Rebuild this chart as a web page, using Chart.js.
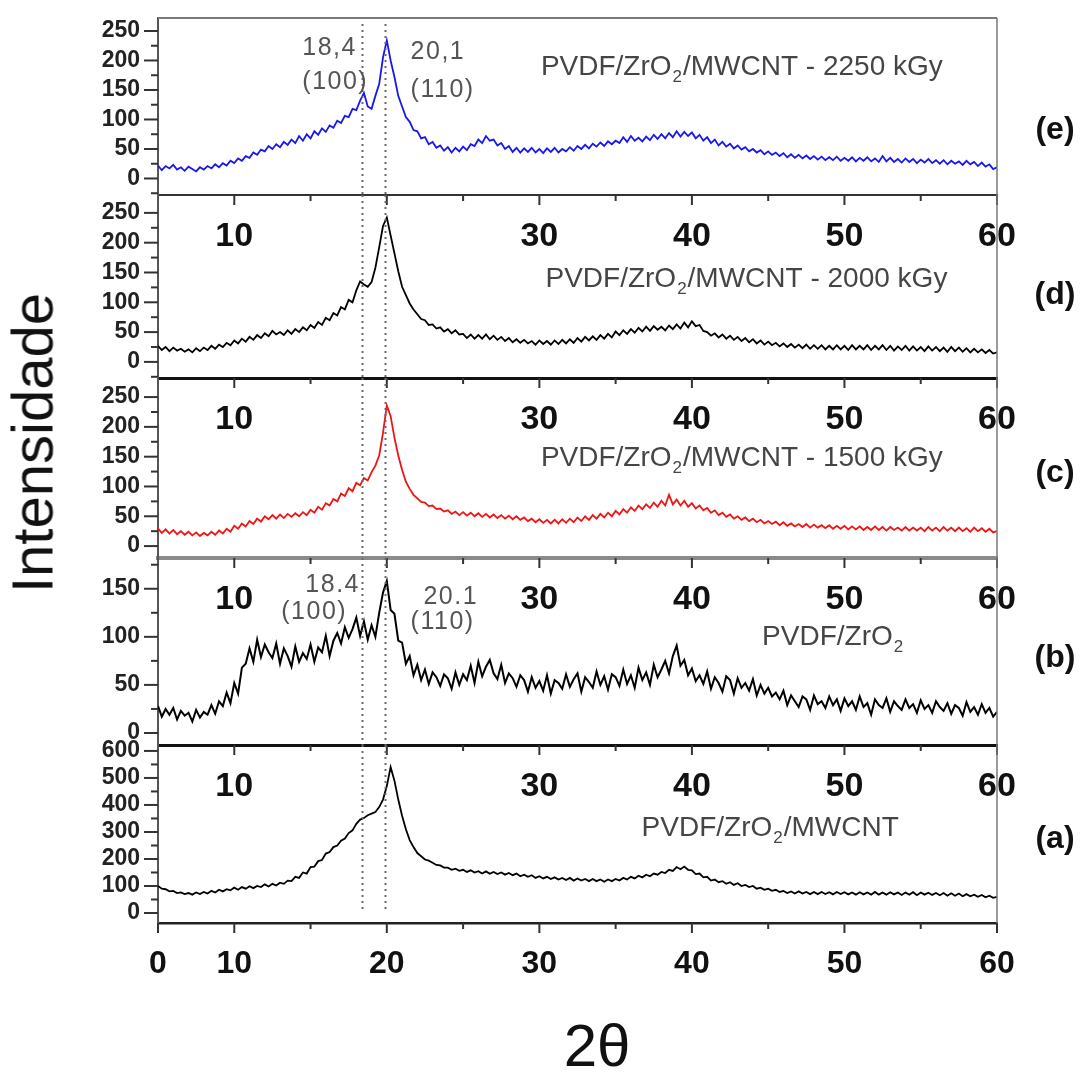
<!DOCTYPE html>
<html>
<head>
<meta charset="utf-8">
<title>DRX PVDF/ZrO2/MWCNT</title>
<script src="https://cdn.jsdelivr.net/npm/chart.js"></script>
<style>
  body { margin: 0; background: #fff; }
  #page { position: relative; width: 1089px; height: 1072px; overflow: hidden; font-family: "Liberation Sans", Arial, sans-serif; }
  .panel { position: absolute; left: 0; width: 1089px; }
  #yTitle { position: absolute; left: 32px; top: 443px; transform: translate(-50%, -50%) rotate(-90deg); font-size: 58px; color: #111; white-space: nowrap; }
  #xTitle { position: absolute; left: 597px; top: 1045px; transform: translate(-50%, -50%); font-size: 60px; color: #111; white-space: nowrap; }
</style>
</head>
<body>
<div id="page">
  <div class="panel" id="boxE"><canvas id="chartE"></canvas></div>
  <div class="panel" id="boxD"><canvas id="chartD"></canvas></div>
  <div class="panel" id="boxC"><canvas id="chartC"></canvas></div>
  <div class="panel" id="boxB"><canvas id="chartB"></canvas></div>
  <div class="panel" id="boxA"><canvas id="chartA"></canvas></div>
  <div id="yTitle">Intensidade</div>
  <div id="xTitle">2θ</div>
</div>

<script>
// diffractograms, 5..60 deg every 0.25 deg
var scanStart = 5, scanStep = 0.25;

// (e) 2250 kGy
var intensE = [
  22,14,21,17,23,15,19,13,20,16,12,19,15,21,17,24,19,26,22,30,
  26,34,30,38,35,44,40,49,46,55,50,58,53,62,57,66,60,72,64,75,
  68,80,74,85,79,90,86,98,94,106,104,118,116,132,145,122,118,140,160,205,
  234,200,172,140,122,104,96,82,80,68,70,58,62,52,56,47,53,44,52,46,
  54,48,58,55,66,60,72,64,66,56,60,50,55,45,52,44,51,45,52,44,
  50,43,51,45,52,44,50,46,53,47,55,50,57,51,59,54,61,55,63,58,
  64,60,70,62,72,64,69,63,71,65,74,67,75,68,77,70,80,71,79,72,
  78,68,74,64,70,60,66,56,62,54,59,51,56,49,53,46,50,44,48,41,
  46,40,44,38,43,36,41,35,40,34,39,33,38,32,37,31,36,31,37,30,
  35,30,36,29,35,30,36,29,34,28,38,29,35,28,33,27,34,28,33,26,
  32,27,33,26,31,25,31,24,30,25,29,23,30,24,28,21,27,20,24,16,
  19
];
// (d) 2000 kGy
var intensD = [
  27,20,25,18,24,19,22,17,21,16,23,18,24,20,27,22,29,25,32,28,
  36,31,39,34,42,37,45,40,48,43,52,46,50,45,53,47,55,50,58,53,
  62,57,67,62,74,70,82,78,92,88,104,100,120,135,130,126,134,158,192,228,
  242,212,182,152,126,112,98,88,80,72,70,62,63,56,58,51,55,48,53,46,
  47,40,46,39,45,39,46,38,44,37,42,35,40,33,38,32,37,31,35,29,
  36,30,35,29,36,30,37,31,38,32,40,34,42,36,43,37,45,39,47,41,
  51,45,53,47,55,49,57,51,59,52,60,54,59,53,61,55,63,56,66,58,
  68,60,62,52,50,44,48,41,46,39,44,37,42,35,40,33,38,31,36,29,
  34,28,32,26,31,25,30,24,29,23,29,22,28,22,28,21,27,21,28,21,
  27,20,28,21,27,21,28,20,27,21,28,20,27,19,26,20,27,19,26,19,
  25,18,26,19,25,18,24,17,25,18,24,17,23,16,22,16,21,15,20,14,
  16
];
// (c) 1500 kGy
var intensC = [
  30,22,28,21,27,20,25,19,24,18,23,17,22,18,24,19,26,21,29,24,
  34,29,38,33,42,37,46,41,50,45,52,46,53,47,54,49,55,50,57,52,
  61,56,66,61,72,68,79,75,88,84,97,92,106,102,114,110,124,135,152,190,
  236,218,182,152,128,108,96,86,80,74,73,67,68,62,63,58,60,54,58,52,
  57,51,56,50,55,49,54,48,53,47,52,46,51,45,50,44,48,42,46,40,
  45,39,44,38,44,38,45,39,46,40,48,42,50,44,52,46,54,48,56,50,
  59,53,62,56,65,59,68,62,70,64,73,66,76,68,86,70,78,68,76,66,
  72,63,68,60,64,56,60,52,56,49,53,46,50,44,48,42,46,40,44,38,
  42,37,41,35,40,34,38,33,37,32,37,31,36,31,35,30,35,29,34,29,
  34,28,33,28,33,27,32,27,33,27,32,26,32,27,31,26,32,26,31,26,
  31,25,32,26,31,25,32,26,31,25,31,25,30,24,31,25,30,24,29,23,
  25
];
// (b) PVDF/ZrO2
var intensB = [
  28,17,25,19,26,14,23,18,21,12,24,16,22,19,29,20,33,28,42,31,
  52,41,68,72,88,74,97,79,92,84,78,93,72,88,80,69,90,74,83,77,
  92,74,89,84,101,80,96,104,93,110,99,108,120,101,116,97,112,100,125,146,
  158,128,124,96,94,72,80,60,71,55,66,51,63,58,49,61,57,46,63,50,
  61,55,70,52,74,59,69,76,62,56,71,52,62,57,48,60,55,43,58,47,
  54,44,60,41,55,52,46,61,48,56,62,43,58,53,47,64,50,59,45,61,
  58,49,66,51,60,47,68,55,63,50,71,58,66,75,62,80,91,70,76,60,
  67,54,60,51,64,46,58,52,43,59,55,41,57,47,52,44,56,39,50,41,
  47,38,42,35,44,29,39,33,27,38,35,24,39,30,33,26,38,29,35,23,
  36,28,33,24,38,27,31,19,35,29,26,36,22,33,28,24,35,26,30,21,
  34,25,29,21,33,27,23,31,20,29,26,18,32,22,27,19,30,21,26,17,
  22
];
// (a) PVDF/ZrO2/MWCNT
var intensA = [
  100,90,88,80,82,74,76,70,74,68,76,70,78,72,82,76,86,80,88,84,
  94,86,96,90,99,92,100,96,106,98,108,102,112,108,120,118,134,130,150,146,
  170,172,192,196,220,226,244,250,268,276,296,306,330,346,352,362,368,374,392,420,
  470,540,490,420,360,310,270,244,222,210,198,194,186,178,176,168,168,160,164,156,
  160,152,158,150,155,146,154,145,152,144,150,142,148,140,146,136,142,134,140,130,
  136,128,134,126,132,124,130,122,130,120,128,120,126,118,126,118,124,116,124,118,
  126,120,130,124,134,128,138,132,142,136,146,142,152,148,160,156,170,162,172,160,
  158,144,146,132,134,120,124,114,118,108,114,104,110,100,104,96,100,90,94,86,
  90,82,86,78,82,74,80,72,80,72,78,70,78,70,78,70,77,69,78,70,
  77,69,76,68,77,69,76,68,78,68,76,68,77,69,76,67,76,68,77,66,
  76,68,75,67,74,66,74,64,73,64,72,62,70,62,68,60,67,58,64,56,
  60
];

var sampleNames = ["PVDF/ZrO₂/MWCNT - 2250 kGy", "PVDF/ZrO₂/MWCNT - 2000 kGy",
  "PVDF/ZrO₂/MWCNT - 1500 kGy", "PVDF/ZrO₂", "PVDF/ZrO₂/MWCNT"];
var panelTags = ["(e)", "(d)", "(c)", "(b)", "(a)"];

// peak markers (2theta) and their labels
var peakLines = [18.4, 19.9];
var peakTextsE = ["18,4", "(100)", "20,1", "(110)"];
var peakTextsB = ["18.4", "(100)", "20.1", "(110)"];

// ticks
var xTickValues = [5, 10, 15, 20, 25, 30, 35, 40, 45, 50, 55, 60];
var xLabelValuesUpper = [10, 30, 40, 50, 60];
var xLabelValuesBottom = [5, 10, 20, 30, 40, 50, 60];
var xLabelTextBottom = ["0", "10", "20", "30", "40", "50", "60"];
var yTicks250 = [-25, 0, 25, 50, 75, 100, 125, 150, 175, 200, 225, 250];
var yTicksC = [0, 25, 50, 75, 100, 125, 150, 175, 200, 225, 250];
var yLabels250 = [0, 50, 100, 150, 200, 250];
var yTicksB = [0, 25, 50, 75, 100, 125, 150, 175];
var yLabelsB = [0, 50, 100, 150];
var yTicksA = [0, 50, 100, 150, 200, 250, 300, 350, 400, 450, 500, 550, 600];
var yLabelsA = [0, 100, 200, 300, 400, 500, 600];

var FONT = '"Liberation Sans", Arial, Helvetica, sans-serif';
var PAD_TOP = 12, X_AXIS_H = 72, PLOT_LEFT = 158, PLOT_RIGHT = 997, PAGE_W = 1089;

var panels = [
  { box: "boxE", canvas: "chartE", values: intensE, color: "#1818ee", top: 18, bottom: 195, yMin: -28, yMax: 272,
    yTicks: yTicks250, yLabels: yLabels250, name: sampleNames[0], nameAt: [30.1, 189], tag: panelTags[0], tagAt: 82,
    peakTexts: peakTextsE, peakAt: [[14.46, 221], [14.46, 164], [21.56, 214], [21.56, 150]],
    bottomColor: "#333", bottomWidth: 2, frameTop: true, dotsFrom: 6, bottomAxis: false, lw: 1.8 },
  { box: "boxD", canvas: "chartD", values: intensD, color: "#000", top: 195, bottom: 378, yMin: -27, yMax: 280,
    yTicks: yTicks250, yLabels: yLabels250, name: sampleNames[1], nameAt: [30.4, 138], tag: panelTags[1], tagAt: 112,
    bottomColor: "#111", bottomWidth: 3, dotsFrom: 0, bottomAxis: false, lw: 1.8 },
  { box: "boxC", canvas: "chartC", values: intensC, color: "#f01414", top: 378, bottom: 558, yMin: -20, yMax: 282,
    yTicks: yTicksC, yLabels: yLabels250, name: sampleNames[2], nameAt: [30.1, 148], tag: panelTags[2], tagAt: 122,
    bottomColor: "#8a8a8a", bottomWidth: 4, dotsFrom: 0, bottomAxis: false, lw: 1.8 },
  { box: "boxB", canvas: "chartB", values: intensB, color: "#000", top: 558, bottom: 745, yMin: -12.5, yMax: 182,
    yTicks: yTicksB, yLabels: yLabelsB, name: sampleNames[3], nameAt: [44.6, 100], tag: panelTags[3], tagAt: 78,
    peakTexts: peakTextsB, peakAt: [[14.66, 154], [13.08, 126], [22.4, 141], [21.56, 115]],
    bottomColor: "#111", bottomWidth: 3, dotsFrom: 0, bottomAxis: false, lw: 2 },
  { box: "boxA", canvas: "chartA", values: intensA, color: "#000", top: 745, bottom: 923, yMin: -37, yMax: 622,
    yTicks: yTicksA, yLabels: yLabelsA, name: sampleNames[4], nameAt: [36.7, 315], tag: panelTags[4], tagAt: 274,
    bottomColor: "#222", bottomWidth: 2.5, dotsFrom: 0, dotsToZero: true, bottomAxis: true, lw: 1.8 }
];

function line(ctx, x1, y1, x2, y2) {
  ctx.beginPath(); ctx.moveTo(x1, y1); ctx.lineTo(x2, y2); ctx.stroke();
}

// text with a lowered small "2" for the subscript
function drawRich(ctx, text, x, y, size) {
  var parts = text.split("₂");
  var cx = x;
  parts.forEach(function (part, i) {
    ctx.font = size + "px " + FONT;
    ctx.fillText(part, cx, y);
    cx += ctx.measureText(part).width;
    if (i < parts.length - 1) {
      ctx.font = Math.round(size * 0.6) + "px " + FONT;
      ctx.fillText("2", cx + 1, y + size * 0.36);
      cx += ctx.measureText("2").width + 2;
    }
  });
}

function makeDeco(p) {
  return {
    id: "deco" + p.canvas,
    afterDatasetsDraw: function (chart) {
      var ctx = chart.ctx, ca = chart.chartArea, xs = chart.scales.x, ys = chart.scales.y;
      ctx.save();
      ctx.strokeStyle = "#6a6a6a";
      ctx.lineWidth = 2;
      ctx.setLineDash([2, 4]);
      peakLines.forEach(function (v) {
        var px = Math.round(xs.getPixelForValue(v)) + 0.5;
        var yEnd = p.dotsToZero ? ys.getPixelForValue(0) : ca.bottom;
        line(ctx, px, ca.top + p.dotsFrom, px, yEnd);
      });
      ctx.restore();
    },
    afterDraw: function (chart) {
      var ctx = chart.ctx, ca = chart.chartArea, xs = chart.scales.x, ys = chart.scales.y;
      ctx.save();
      // frame
      ctx.strokeStyle = "#7a7a7a";
      ctx.lineWidth = 1.5;
      line(ctx, ca.right, ca.top, ca.right, ca.bottom);
      if (p.frameTop) {
        ctx.lineWidth = 2;
        line(ctx, ca.left, ca.top, ca.right, ca.top);
      }
      // tick marks, long where labelled
      ctx.strokeStyle = "#333";
      ctx.lineWidth = 2;
      p.yTicks.forEach(function (v) {
        var y = ys.getPixelForValue(v);
        var len = p.yLabels.indexOf(v) >= 0 ? 14 : 7;
        line(ctx, ca.left - len, y, ca.left, y);
      });
      xTickValues.forEach(function (v) {
        var x = xs.getPixelForValue(v);
        var len = (v % 10 === 0 || (p.bottomAxis && v === 5)) ? 10 : 6;
        line(ctx, x, ca.bottom, x, ca.bottom + len);
      });
      // sample name
      ctx.fillStyle = "#454545";
      ctx.textAlign = "left";
      ctx.textBaseline = "middle";
      drawRich(ctx, p.name, xs.getPixelForValue(p.nameAt[0]), ys.getPixelForValue(p.nameAt[1]), 28);
      // peak labels
      if (p.peakTexts) {
        ctx.font = "25px " + FONT;
        ctx.fillStyle = "#555";
        ctx.letterSpacing = "1.5px";
        p.peakTexts.forEach(function (t, i) {
          ctx.fillText(t, xs.getPixelForValue(p.peakAt[i][0]), ys.getPixelForValue(p.peakAt[i][1]));
        });
        ctx.letterSpacing = "0px";
      }
      // panel tag
      ctx.font = "bold 32px " + FONT;
      ctx.fillStyle = "#111";
      ctx.textAlign = "center";
      ctx.fillText(p.tag, ca.right + 58, ys.getPixelForValue(p.tagAt));
      ctx.restore();
    }
  };
}

function makePanel(p) {
  var box = document.getElementById(p.box);
  box.style.top = (p.top - PAD_TOP) + "px";
  box.style.height = (p.bottom - p.top + PAD_TOP + X_AXIS_H) + "px";
  var pts = p.values.map(function (v, i) { return { x: scanStart + i * scanStep, y: v }; });

  return new Chart(document.getElementById(p.canvas), {
    type: "line",
    data: { datasets: [{ data: pts, borderColor: p.color, borderWidth: p.lw, pointRadius: 0, tension: 0, fill: false }] },
    options: {
      responsive: true,
      maintainAspectRatio: false,
      animation: false,
      events: [],
      layout: { padding: { top: PAD_TOP, left: 0, right: PAGE_W - PLOT_RIGHT, bottom: 0 } },
      plugins: { legend: { display: false }, tooltip: { enabled: false } },
      scales: {
        x: {
          type: "linear", min: 5, max: 60,
          afterFit: function (s) { s.height = X_AXIS_H; s.paddingLeft = 0; s.paddingRight = 0; },
          afterBuildTicks: function (s) { s.ticks = xTickValues.map(function (v) { return { value: v }; }); },
          grid: { display: false, drawTicks: false },
          border: { display: true, color: p.bottomColor, width: p.bottomWidth },
          ticks: {
            autoSkip: false, maxRotation: 0, minRotation: 0,
            padding: p.bottomAxis ? 22 : 21,
            color: "#111",
            font: { family: FONT, size: p.bottomAxis ? 32 : 34, weight: "bold" },
            callback: function (v) {
              if (p.bottomAxis) {
                var k = xLabelValuesBottom.indexOf(v);
                return k >= 0 ? xLabelTextBottom[k] : "";
              }
              return xLabelValuesUpper.indexOf(v) >= 0 ? String(v) : "";
            }
          }
        },
        y: {
          min: p.yMin, max: p.yMax,
          afterFit: function (s) { s.width = PLOT_LEFT; s.paddingTop = 0; s.paddingBottom = 0; },
          afterBuildTicks: function (s) { s.ticks = p.yTicks.map(function (v) { return { value: v }; }); },
          grid: { display: false, drawTicks: false },
          border: { display: true, color: "#555", width: 2 },
          ticks: {
            autoSkip: false, padding: 18, color: "#222",
            font: { family: FONT, size: 23, weight: "bold" },
            callback: function (v) { return p.yLabels.indexOf(v) >= 0 ? String(v) : ""; }
          }
        }
      }
    },
    plugins: [makeDeco(p)]
  });
}

panels.forEach(makePanel);
</script>
</body>
</html>
